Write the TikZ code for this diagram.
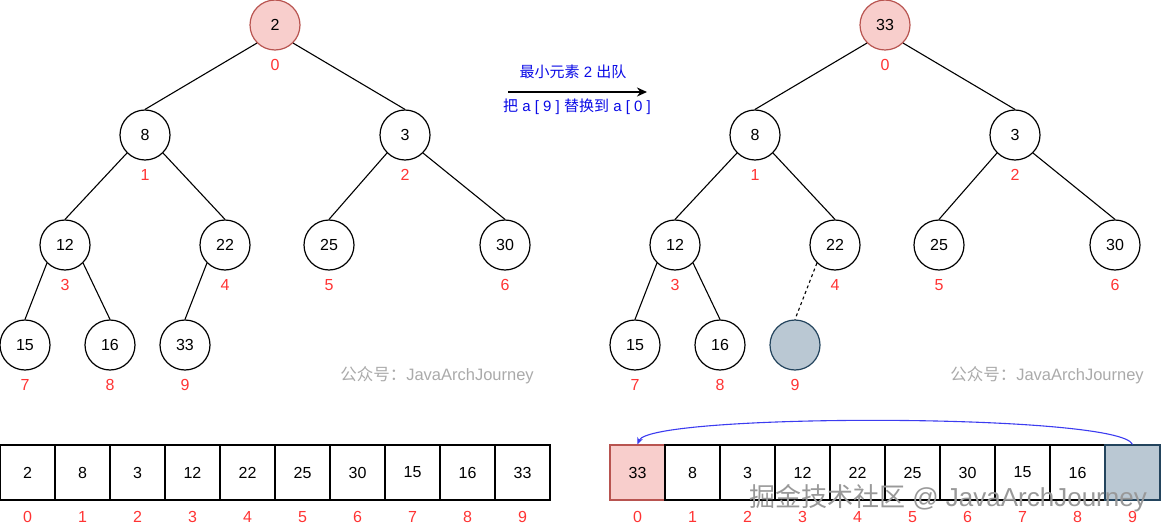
\documentclass[tikz,border=0pt]{standalone}
\usepackage{fontspec}
\setmainfont{Liberation Sans}
\newfontfamily\cjk{Noto Sans CJK SC}
\usetikzlibrary{arrows.meta}
\definecolor{idxred}{RGB}{255,51,51}
\definecolor{noteblue}{RGB}{10,10,230}
\definecolor{curveblue}{RGB}{60,60,240}
\definecolor{hotfill}{HTML}{F8CECC}
\definecolor{hotline}{HTML}{B85450}
\definecolor{holefill}{HTML}{BAC8D3}
\definecolor{holeline}{HTML}{23445D}
\definecolor{wmgray}{RGB}{170,170,170}
\tikzset{
  vertex/.style={circle,draw,line width=1.2pt,minimum size=50pt,inner sep=0pt,font=\fontsize{16}{19}\selectfont},
  hot/.style={fill=hotfill,draw=hotline},
  hole/.style={fill=holefill,draw=holeline},
  cell/.style={rectangle,draw,line width=1.2pt,minimum size=55pt,inner sep=0pt,font=\fontsize{16}{19}\selectfont},
  idx/.style={text=idxred,inner sep=0pt,font=\fontsize{16}{19}\selectfont},
  note/.style={text=noteblue,inner sep=0pt,font=\fontsize{15}{18}\selectfont},
  wmark/.style={text=wmgray,inner sep=0pt,font=\fontsize{16.5}{19}\selectfont},
  edge/.style={line width=1.1pt},
}

\begin{document}
\begin{tikzpicture}[x=1pt,y=-1pt]
        \useasboundingbox (0,0) rectangle (1162,532);
        % vertices
        \node[vertex,hot] (L0) at (275,25) {2};
        \node[vertex,hot] (R0) at (885,25) {33};
        \foreach \n/\x/\y/\v in {1/145/135/8,2/405/135/3,3/65/245/12,4/225/245/22,
                                 5/329/245/25,6/505/245/30,7/25/345/15,8/110/345/16} {
          \node[vertex] (L\n) at (\x,\y) {\v};
          \node[vertex] (R\n) at (\x+610,\y) {\v};
        }
        \node[vertex] (L9) at (185,345) {33};
        \node[vertex,hole] (R9) at (795,345) {};
        \foreach \n in {0,...,9} {
          \node[idx] (Li\n) at ([yshift=-40pt]L\n.center) {\n};
          \node[idx] (Ri\n) at ([yshift=-40pt]R\n.center) {\n};
        }
        % edges
        \foreach \p/\c/\a in {0/1/south west,0/2/south east,1/3/south west,1/4/south east,
                              2/5/south west,2/6/south east,3/7/south west,3/8/south east} {
          \draw[edge] (L\p.\a) -- (L\c.north);
          \draw[edge] (R\p.\a) -- (R\c.north);
        }
        \draw[edge] (L4.south west) -- (L9.north);
        \draw[edge,dashed] (R4.south west) -- (R9.north);
        % step arrow
        \coordinate (s) at (508,92);
        \coordinate (t) at (647,92);
        \draw[line width=1.6pt,-{Stealth[length=10pt,width=9pt]}] (s) -- (t);
        \node[note] (pop) at (573,72) {{\cjk 最小元素} 2 {\cjk 出队}};
        \node[note] (swap) at (577,107) {{\cjk 把} a [ 9 ] {\cjk 替换到} a [ 0 ]};
        % arrays
        \foreach \v [count=\i from 0] in {2,8,3,12,22,25,30,15,16,33} {
          \node[cell] (A\i) at ({27.5+55*\i},472.5) {\v};
          \node[idx] (Ai\i) at ({27.5+55*\i},517) {\i};
        }
        \node[cell,hot] (B0) at (637.5,472.5) {33};
        \foreach \v [count=\i from 1] in {8,3,12,22,25,30,15,16} {
          \node[cell] (B\i) at ({637.5+55*\i},472.5) {\v};
        }
        \node[cell,hole] (B9) at (1132.5,472.5) {};
        \foreach \i in {0,...,9} {
          \node[idx] (Bi\i) at ({637.5+55*\i},517) {\i};
        }
        \draw[curveblue,line width=1.1pt,-{Stealth[length=7pt,width=6pt]}] (B9.north) .. controls (1120,413) and (650,413) .. (B0.north);
        % watermarks
        \node[wmark] (wm1) at (437,375) {{\cjk 公众号：}JavaArchJourney};
        \node[wmark] (wm2) at (1047,375) {{\cjk 公众号：}JavaArchJourney};
        \node[wmark,text=black!40,font=\fontsize{26}{30}\selectfont] (wm3) at (948,498) {{\cjk 掘金技术社区} @ JavaArchJourney};
      \end{tikzpicture}
\end{document}
